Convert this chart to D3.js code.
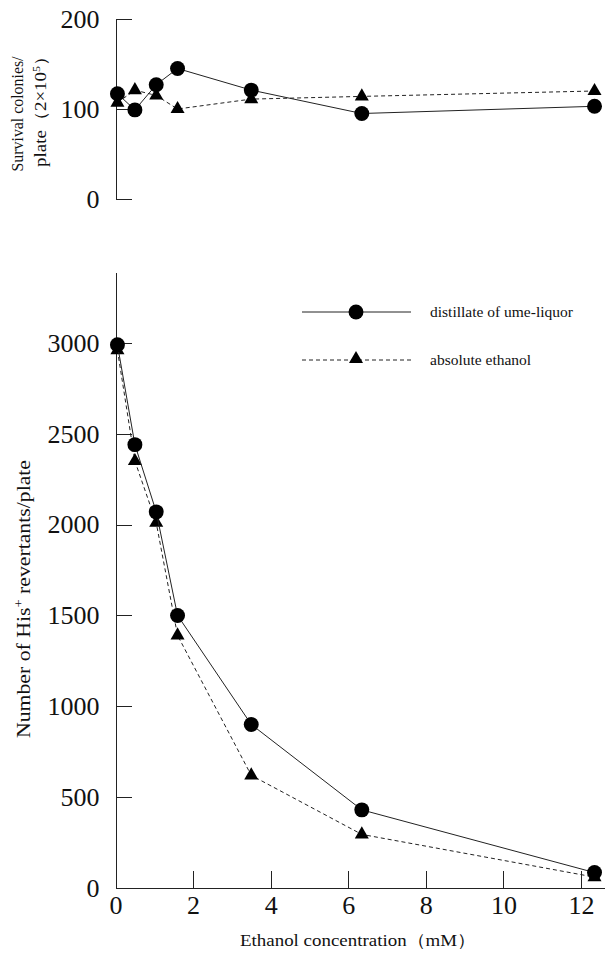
<!DOCTYPE html>
<html>
<head>
<meta charset="utf-8">
<script src="https://cdn.jsdelivr.net/npm/d3@7"></script>
<style>
  body { margin: 0; background: #fff; }
  svg { display: block; }
  text { font-family: "Liberation Serif", "DejaVu Serif", serif; fill: #111; }
  .axis path, .axis line { stroke: #222; stroke-width: 1; shape-rendering: crispEdges; }
</style>
</head>
<body>
<svg width="605" height="957"></svg>
<script>
'use strict';

// data
const conc = [0.05, 0.5, 1.05, 1.6, 3.5, 6.35, 12.35];          // mM ethanol
const survivalUme = [117, 99, 127, 145, 121, 95, 103];
const survivalEthanol = [107, 121, 115, 100, 111, 114, 120];
const revertUme = [2990, 2440, 2070, 1500, 900, 430, 85];
const revertEthanol = [2960, 2350, 2010, 1390, 620, 295, 60];

const xTicks = [0, 2, 4, 6, 8, 10, 12];
const survTicks = [0, 100, 200];
const revTicks = [0, 500, 1000, 1500, 2000, 2500, 3000];

const seriesNames = ["distillate of ume-liquor", "absolute ethanol"];

const svg = d3.select("svg");

// scales
const x = d3.scaleLinear().domain([0, 12.62]).range([115.5, 605]);
const ySurv = d3.scaleLinear().domain([0, 200]).range([199, 19]);
const yRev = d3.scaleLinear().domain([0, 3390]).range([888, 272]);

// tick labels use the serif font, not d3's default sans-serif
function serifTicks(g) {
  g.attr("font-family", null).attr("font-size", null);
  g.selectAll("text").style("font-size", "26px");
}

// axes: ticks point inward
svg.append("g")
  .attr("class", "axis")
  .attr("transform", "translate(115.5,0)")
  .call(d3.axisLeft(ySurv).tickValues(survTicks).tickFormat(d3.format("d"))
    .tickSizeInner(-16).tickSizeOuter(0).tickPadding(16))
  .call(serifTicks);

svg.append("g")
  .attr("class", "axis")
  .attr("transform", "translate(115.5,0)")
  .call(d3.axisLeft(yRev).tickValues(revTicks).tickFormat(d3.format("d"))
    .tickSizeInner(-16).tickSizeOuter(0).tickPadding(16))
  .call(serifTicks);

svg.append("g")
  .attr("class", "axis")
  .attr("transform", "translate(0,888)")
  .call(d3.axisBottom(x).tickValues(xTicks).tickFormat(d3.format("d"))
    .tickSizeInner(-17).tickSizeOuter(0).tickPadding(8))
  .call(serifTicks);

// axis titles (the original typeface is wider, so stretch to its length)
svg.append("text")
  .attr("x", 358).attr("y", 946)
  .attr("text-anchor", "middle")
  .attr("textLength", 236)
  .attr("lengthAdjust", "spacingAndGlyphs")
  .style("font-size", "17px")
  .text("Ethanol concentration（mM）");

svg.append("text")
  .attr("transform", "translate(30,599) rotate(-90)")
  .attr("text-anchor", "middle")
  .attr("textLength", 278)
  .attr("lengthAdjust", "spacingAndGlyphs")
  .style("font-size", "18px")
  .html("Number of His<tspan dy='-7' font-size='12'>+</tspan><tspan dy='7'> revertants/plate</tspan>");

svg.append("text")
  .attr("transform", "translate(23,114) rotate(-90)")
  .attr("text-anchor", "middle")
  .attr("textLength", 115)
  .attr("lengthAdjust", "spacingAndGlyphs")
  .style("font-size", "16px")
  .text("Survival colonies/");

svg.append("text")
  .attr("transform", "translate(46,107) rotate(-90)")
  .attr("text-anchor", "middle")
  .attr("textLength", 120)
  .attr("lengthAdjust", "spacingAndGlyphs")
  .style("font-size", "16px")
  .html("plate（2×10<tspan dy='-6' font-size='10'>5</tspan><tspan dy='6'>）</tspan>");

// series drawing
const lineStyles = [
  { dash: null, symbol: d3.symbolCircle, size: 175 },
  { dash: "4,3", symbol: d3.symbolTriangle, size: 85 }
];

function drawSeries(yScale, values, style) {
  const pts = conc.map((c, i) => [c, values[i]]);
  const line = d3.line().x(d => x(d[0])).y(d => yScale(d[1]));
  svg.append("path")
    .datum(pts)
    .attr("d", line)
    .attr("fill", "none")
    .attr("stroke", "#222")
    .attr("stroke-width", 1)
    .attr("stroke-dasharray", style.dash);
  svg.append("g").selectAll("path")
    .data(pts)
    .join("path")
    .attr("transform", d => `translate(${x(d[0])},${yScale(d[1])})`)
    .attr("d", d3.symbol().type(style.symbol).size(style.size))
    .attr("fill", "#000");
}

drawSeries(ySurv, survivalEthanol, lineStyles[1]);
drawSeries(ySurv, survivalUme, lineStyles[0]);
drawSeries(yRev, revertEthanol, lineStyles[1]);
drawSeries(yRev, revertUme, lineStyles[0]);

// legend
const legend = svg.append("g");
seriesNames.forEach((name, i) => {
  const ly = 312 + i * 48;
  const st = lineStyles[i];
  legend.append("line")
    .attr("x1", 302).attr("x2", 411).attr("y1", ly).attr("y2", ly)
    .attr("stroke", "#222").attr("stroke-width", 1)
    .attr("stroke-dasharray", st.dash);
  legend.append("path")
    .attr("transform", `translate(356,${ly - (i ? 1 : 0)})`)
    .attr("d", d3.symbol().type(st.symbol).size(st.size))
    .attr("fill", "#000");
  legend.append("text")
    .attr("x", 430).attr("y", ly + 5)
    .style("font-size", "15.5px")
    .text(name);
});
</script>
</body>
</html>
